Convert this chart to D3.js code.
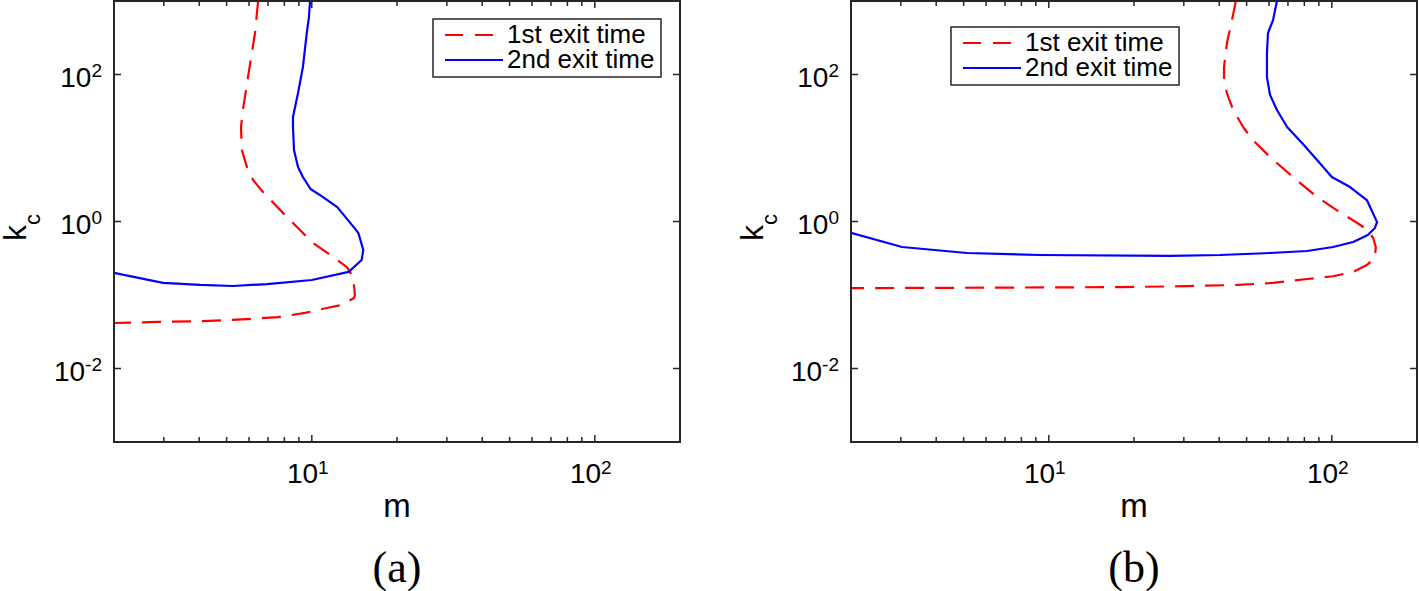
<!DOCTYPE html>
<html>
<head>
<meta charset="utf-8">
<script src="https://cdn.jsdelivr.net/npm/d3@7"></script>
<style>
  body { margin: 0; background: #fff; }
  svg { display: block; }
  text { font-family: "Liberation Sans", Arial, Helvetica, sans-serif; fill: #000; }
  .caption { font-family: "Liberation Serif", "Times New Roman", serif; }
</style>
</head>
<body>
<div id="chart"></div>
<script>
// exit time boundaries, [m, k_c] pairs
var exitA1 = [[6.46, 1000], [6.3, 367], [5.95, 92], [5.71, 32.9], [5.62, 19.3], [5.66, 9.4],
  [5.9, 5.5], [6.2, 3.67], [6.72, 2.52], [7.91, 1.31], [8.58, 0.955], [10.1, 0.51],
  [11.9, 0.329], [13.3, 0.24], [14.0, 0.176], [14.2, 0.1], [14.1, 0.091], [12.7, 0.073],
  [11.3, 0.0666], [9.46, 0.057], [7.6, 0.05], [5.9, 0.047], [4.1, 0.044], [2.84, 0.043], [2, 0.0416]];
var exitA2 = [[9.86, 1000], [9.77, 605], [9.6, 367], [9.3, 126], [8.94, 56], [8.58, 26.4],
  [8.58, 19.3], [8.65, 9.4], [8.94, 5.5], [9.3, 4.03], [9.9, 2.77], [10.96, 2.15],
  [12.3, 1.57], [13.6, 0.98], [14.6, 0.7], [15.2, 0.41], [15.0, 0.3], [13.5, 0.206],
  [10.0, 0.16], [6.95, 0.141], [5.26, 0.1325], [4.03, 0.137], [2.98, 0.146], [2, 0.2]];
var exitB1 = [[45.8, 1000], [44.4, 551], [42.6, 268], [41.6, 126], [41.6, 84], [42.6, 56],
  [44.8, 32.9], [48.6, 19.3], [52.6, 12.8], [60.5, 7.55], [72.9, 4.03], [88.7, 2.15],
  [104, 1.43], [123, 0.955], [134, 0.766], [140, 0.597], [143, 0.45], [142, 0.318],
  [133, 0.256], [119, 0.206], [101, 0.18], [81.7, 0.165], [62, 0.146], [46.2, 0.137],
  [30.8, 0.132], [17.9, 0.128], [6.7, 0.126], [2, 0.124]];
var exitB2 = [[64, 1000], [62, 551], [59.5, 367], [59, 196], [59, 92], [60.5, 52.6],
  [64, 32.9], [69.5, 19.3], [78.5, 11.7], [88.7, 6.87], [100, 4.03], [116, 2.94],
  [133, 1.96], [144.5, 0.98], [142, 0.817], [134, 0.655], [119, 0.526], [101, 0.45],
  [81.7, 0.397], [60.5, 0.373], [40.3, 0.35], [26.8, 0.34], [9.3, 0.35], [5.14, 0.373],
  [3.03, 0.45], [2, 0.7]];

var seriesNames = ["1st exit time", "2nd exit time"];
var xDomain = [2, 200];
var yDomain = [1e-3, 1e3];
var xMajor = [10, 100];
var xMinor = [3, 4, 5, 6, 7, 8, 9, 20, 30, 40, 50, 60, 70, 80, 90];
var yMajor = [1e-2, 1, 1e2];
var captions = ["(a)", "(b)"];

var width = 1419, height = 591;
var axisColor = "#262626";
var colors = ["#ff0000", "#0000ff"];

var svg = d3.select("#chart").append("svg")
  .attr("width", width)
  .attr("height", height);

var panels = [
  { left: 114, right: 680, data: [exitA1, exitA2], legend: { x: 433, y: 19 } },
  { left: 851, right: 1417, data: [exitB1, exitB2], legend: { x: 951, y: 27 } }
];
var plotTop = 1, plotBottom = 442;

panels.forEach(function (p, pi) {
  var x = d3.scaleLog().domain(xDomain).range([p.left, p.right]);
  var y = d3.scaleLog().domain(yDomain).range([plotBottom, plotTop]);
  var g = svg.append("g");

  var clipId = "clip" + pi;
  g.append("clipPath").attr("id", clipId)
    .append("rect")
    .attr("x", p.left).attr("y", plotTop)
    .attr("width", p.right - p.left).attr("height", plotBottom - plotTop);

  // curves
  var line = d3.line()
    .x(function (d) { return x(d[0]); })
    .y(function (d) { return y(d[1]); });

  p.data.forEach(function (s, si) {
    g.append("path")
      .datum(s)
      .attr("clip-path", "url(#" + clipId + ")")
      .attr("d", line)
      .attr("fill", "none")
      .attr("stroke", colors[si])
      .attr("stroke-width", 2.2)
      .attr("stroke-dasharray", si === 0 ? "19,11" : null)
      .attr("stroke-linejoin", "round");
  });

  // box and ticks
  g.append("rect")
    .attr("x", p.left).attr("y", plotTop)
    .attr("width", p.right - p.left).attr("height", plotBottom - plotTop)
    .attr("fill", "none")
    .attr("stroke", axisColor)
    .attr("stroke-width", 2);

  function xTick(v, len) {
    g.append("line")
      .attr("x1", x(v)).attr("x2", x(v))
      .attr("y1", plotBottom).attr("y2", plotBottom - len)
      .attr("stroke", axisColor).attr("stroke-width", 1.5);
    g.append("line")
      .attr("x1", x(v)).attr("x2", x(v))
      .attr("y1", plotTop).attr("y2", plotTop + len)
      .attr("stroke", axisColor).attr("stroke-width", 1.5);
  }
  xMinor.forEach(function (v) { xTick(v, 5); });
  xMajor.forEach(function (v) { xTick(v, 7); });

  yMajor.forEach(function (v) {
    g.append("line")
      .attr("x1", p.left).attr("x2", p.left + 7)
      .attr("y1", y(v)).attr("y2", y(v))
      .attr("stroke", axisColor).attr("stroke-width", 1.5);
    g.append("line")
      .attr("x1", p.right).attr("x2", p.right - 7)
      .attr("y1", y(v)).attr("y2", y(v))
      .attr("stroke", axisColor).attr("stroke-width", 1.5);
  });

  // tick labels like 10^2
  function powLabel(sel, v) {
    var e = Math.round(Math.log10(v));
    sel.append("tspan").text("10");
    sel.append("tspan")
      .attr("dy", "-0.5em")
      .style("font-size", "19px")
      .text(e);
  }

  xMajor.forEach(function (v) {
    var t = g.append("text")
      .attr("x", x(v) - 4)
      .attr("y", 483)
      .attr("text-anchor", "middle")
      .style("font-size", "28px");
    powLabel(t, v);
  });

  yMajor.forEach(function (v) {
    var t = g.append("text")
      .attr("x", p.left - 12)
      .attr("y", y(v) + 12)
      .attr("text-anchor", "end")
      .style("font-size", "28px");
    powLabel(t, v);
  });

  // axis labels
  var cx = (p.left + p.right) / 2;
  g.append("text")
    .attr("x", cx)
    .attr("y", 517)
    .attr("text-anchor", "middle")
    .style("font-size", "33px")
    .text("m");

  var yl = g.append("text")
    .attr("transform", "translate(" + (p.left - 88) + "," + ((plotTop + plotBottom) / 2 + 6) + ") rotate(-90)")
    .attr("text-anchor", "middle")
    .style("font-size", "32px");
  yl.append("tspan").text("k");
  yl.append("tspan").attr("dy", 14).style("font-size", "22px").text("c");

  g.append("text")
    .attr("class", "caption")
    .attr("x", cx)
    .attr("y", 582)
    .attr("text-anchor", "middle")
    .style("font-size", "44px")
    .text(captions[pi]);

  // legend
  var lg = g.append("g").attr("transform", "translate(" + p.legend.x + "," + p.legend.y + ")");
  lg.append("rect")
    .attr("width", 228).attr("height", 58)
    .attr("fill", "#fff")
    .attr("stroke", axisColor)
    .attr("stroke-width", 1.5);
  seriesNames.forEach(function (name, si) {
    var ry = 16 + si * 25;
    lg.append("line")
      .attr("x1", 12).attr("x2", si === 0 ? 61 : 70)
      .attr("y1", ry).attr("y2", ry)
      .attr("stroke", colors[si])
      .attr("stroke-width", 2.2)
      .attr("stroke-dasharray", si === 0 ? "18,12" : null);
    lg.append("text")
      .attr("x", 74)
      .attr("y", ry + 8)
      .style("font-size", "26px")
      .text(name);
  });
});
</script>
</body>
</html>
